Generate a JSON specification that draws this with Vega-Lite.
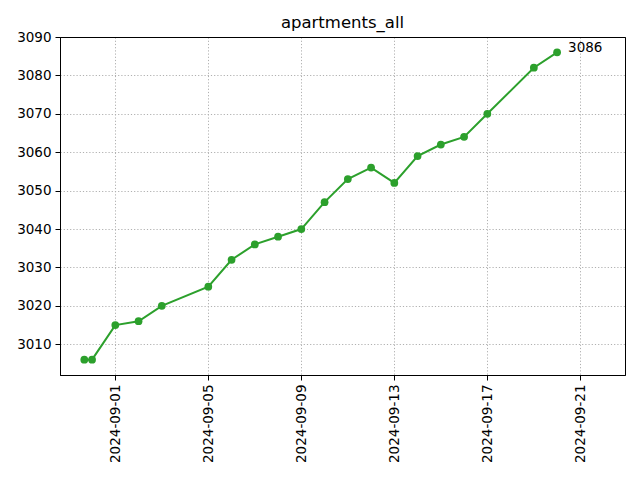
{
  "$schema": "https://vega.github.io/schema/vega-lite/v6.json",
  "autosize": {"type": "none"},
  "padding": {"left": 60, "top": 37, "right": 15, "bottom": 105},
  "width": 565,
  "height": 338,
  "background": "white",
  "title": {"text": "apartments_all", "fontSize": 16.5, "fontWeight": "normal", "font": "DejaVu Sans", "color": "black", "anchor": "middle", "offset": -1},
  "config": {
    "view": {"stroke": "black", "strokeWidth": 1},
    "axis": {
      "labelFont": "DejaVu Sans", "labelFontSize": 13.5, "labelColor": "black",
      "domainColor": "black", "tickColor": "black", "tickSize": 5, "labelPadding": 4,
      "gridColor": "#b0b0b0", "gridDash": [1.2, 2], "gridWidth": 1, "title": null
    }
  },
  "data": {"values": [
    {"t": "2024-08-30T16:00:00Z", "v": 3006},
    {"t": "2024-08-31T00:00:00Z", "v": 3006},
    {"t": "2024-09-01T00:00:00Z", "v": 3015},
    {"t": "2024-09-02T00:00:00Z", "v": 3016},
    {"t": "2024-09-03T00:00:00Z", "v": 3020},
    {"t": "2024-09-05T00:00:00Z", "v": 3025},
    {"t": "2024-09-06T00:00:00Z", "v": 3032},
    {"t": "2024-09-07T00:00:00Z", "v": 3036},
    {"t": "2024-09-08T00:00:00Z", "v": 3038},
    {"t": "2024-09-09T00:00:00Z", "v": 3040},
    {"t": "2024-09-10T00:00:00Z", "v": 3047},
    {"t": "2024-09-11T00:00:00Z", "v": 3053},
    {"t": "2024-09-12T00:00:00Z", "v": 3056},
    {"t": "2024-09-13T00:00:00Z", "v": 3052},
    {"t": "2024-09-14T00:00:00Z", "v": 3059},
    {"t": "2024-09-15T00:00:00Z", "v": 3062},
    {"t": "2024-09-16T00:00:00Z", "v": 3064},
    {"t": "2024-09-17T00:00:00Z", "v": 3070},
    {"t": "2024-09-19T00:00:00Z", "v": 3082},
    {"t": "2024-09-20T00:00:00Z", "v": 3086, "label": "3086"}
  ]},
  "encoding": {
    "x": {
      "field": "t", "type": "temporal",
      "scale": {"type": "utc", "domain": [
        {"year": 2024, "month": 8, "date": 29, "hours": 14, "minutes": 55, "utc": true},
        {"year": 2024, "month": 9, "date": 22, "hours": 22, "minutes": 5, "utc": true}
      ]},
      "axis": {
        "values": [
          {"year": 2024, "month": 9, "date": 1, "utc": true},
          {"year": 2024, "month": 9, "date": 5, "utc": true},
          {"year": 2024, "month": 9, "date": 9, "utc": true},
          {"year": 2024, "month": 9, "date": 13, "utc": true},
          {"year": 2024, "month": 9, "date": 17, "utc": true},
          {"year": 2024, "month": 9, "date": 21, "utc": true}
        ],
        "labelExpr": "utcFormat(datum.value, '%Y-%m-%d')",
        "labelAngle": 270, "labelAlign": "right", "labelBaseline": "middle",
        "grid": true, "labelFlush": false, "labelOverlap": false
      }
    },
    "y": {
      "field": "v", "type": "quantitative",
      "scale": {"domain": [3002, 3090], "nice": false, "zero": false},
      "axis": {
        "values": [3010, 3020, 3030, 3040, 3050, 3060, 3070, 3080, 3090],
        "format": "d",
        "grid": true, "labelFlush": false, "labelOverlap": false,
        "gridColor": {"condition": {"test": "datum.value == 3090", "value": "black"}, "value": "#b0b0b0"},
        "gridDash": {"condition": {"test": "datum.value == 3090", "value": []}, "value": [1.2, 2]}
      }
    }
  },
  "layer": [
    {"mark": {"type": "line", "color": "#2ca02c", "strokeWidth": 2}},
    {"mark": {"type": "point", "filled": true, "color": "#2ca02c", "opacity": 1, "size": 60}},
    {
      "transform": [{"filter": "datum.label"}],
      "mark": {"type": "text", "align": "left", "baseline": "middle", "dx": 11, "dy": -4, "font": "DejaVu Sans", "fontSize": 13.5, "color": "black"},
      "encoding": {"text": {"field": "label"}}
    }
  ]
}
